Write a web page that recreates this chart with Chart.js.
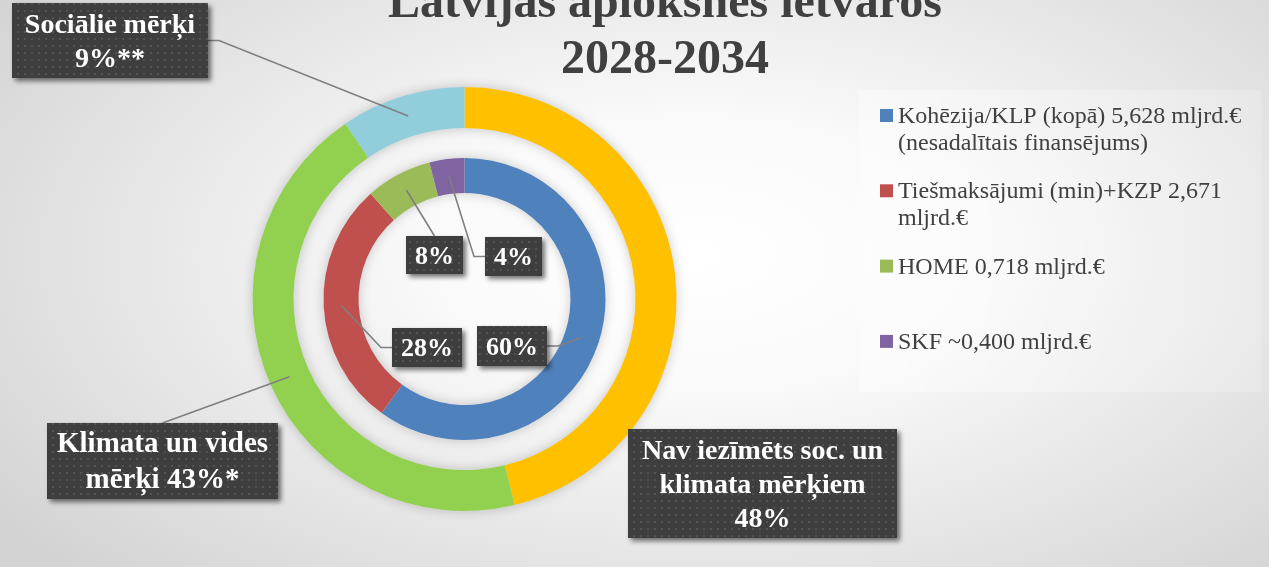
<!DOCTYPE html>
<html>
<head>
<meta charset="utf-8">
<script src="https://cdn.jsdelivr.net/npm/chart.js@4.4.1/dist/chart.umd.min.js"></script>
<style>
  html, body { margin: 0; padding: 0; }
  body {
    width: 1269px; height: 567px; overflow: hidden;
    background: radial-gradient(ellipse 68% 80% at 55% 45%, #ffffff 0%, #fafafa 30%, #e4e4e4 70%, #d3d3d3 100%);
  }
  #wrap { position: relative; width: 1269px; height: 567px; }
</style>
</head>
<body>
<div id="wrap"><canvas id="envelopeChart"></canvas></div>
<script>
const titleLines = ['Latvijas aploksnes ietvaros', '2028-2034'];

// outer ring - targets, clockwise from 12 o'clock
const targetLabels = ['Nav iezīmēts soc. un\nklimata mērķiem\n48%', 'Klimata un vides\nmērķi 43%*', 'Sociālie mērķi\n9%**'];
const targetValues = [46.2, 44.3, 9.5];

// inner ring - funding sources
const sourceLabels = [
  'Kohēzija/KLP (kopā) 5,628 mljrd.€ (nesadalītais finansējums)',
  'Tiešmaksājumi (min)+KZP 2,671 mljrd.€',
  'HOME 0,718 mljrd.€',
  'SKF ~0,400 mljrd.€'
];
const sourceValues = [60, 28.4, 7.6, 4];

const targetColors = ['#FFC000', '#92D050', '#92CDDC'];
const sourceColors = ['#4F81BD', '#C0504D', '#9BBB59', '#8064A2'];

// label boxes (placement only)
const targetBoxes = [
  { x: 628, y: 429, w: 269, h: 109, lh: 34, size: 28, side: 'none' },
  { x: 47, y: 423, w: 231, h: 76, lh: 36, size: 29, side: 'top' },
  { x: 12, y: 3, w: 196, h: 75, lh: 34, size: 28, side: 'right' }
];
const sourceBoxes = [
  { x: 477, y: 326, w: 70, h: 40, size: 26, side: 'right' },
  { x: 392, y: 328, w: 70, h: 39, size: 26, side: 'left' },
  { x: 406, y: 236, w: 57, h: 38, size: 26, side: 'top' },
  { x: 485, y: 237, w: 57, h: 39, size: 26, side: 'left' }
];

const serif = '"Liberation Serif", "Times New Roman", serif';

function dotPattern(ctx) {
  const c = document.createElement('canvas');
  c.width = 7; c.height = 7;
  const g = c.getContext('2d');
  g.fillStyle = '#3e3e3e';
  g.fillRect(0, 0, 7, 7);
  g.fillStyle = '#535353';
  g.fillRect(3, 3, 2, 2);
  return ctx.createPattern(c, 'repeat');
}

function drawLabel(ctx, box, text, anchor, pattern) {
  // leader line
  ctx.save();
  ctx.strokeStyle = '#7f7f7f';
  ctx.lineWidth = 1.6;
  const cy = box.y + box.h / 2;
  if (box.side !== 'none') {
    ctx.beginPath();
    if (box.side === 'right') {
      ctx.moveTo(box.x + box.w, cy);
      ctx.lineTo(box.x + box.w + 11, cy);
    } else if (box.side === 'left') {
      ctx.moveTo(box.x, cy);
      ctx.lineTo(box.x - 11, cy);
    } else {
      ctx.moveTo(box.x + box.w / 2, box.y);
    }
    ctx.lineTo(anchor.x, anchor.y);
    ctx.stroke();
  }
  ctx.restore();

  // box with shadow
  ctx.save();
  ctx.shadowColor = 'rgba(0,0,0,0.55)';
  ctx.shadowBlur = 5;
  ctx.shadowOffsetX = 3;
  ctx.shadowOffsetY = 3;
  ctx.fillStyle = pattern;
  ctx.fillRect(box.x, box.y, box.w, box.h);
  ctx.restore();

  ctx.save();
  ctx.fillStyle = '#ffffff';
  ctx.font = 'bold ' + box.size + 'px ' + serif;
  ctx.textAlign = 'center';
  ctx.textBaseline = 'middle';
  const lines = text.split('\n');
  const lh = box.lh || box.size;
  lines.forEach((ln, i) => {
    ctx.fillText(ln, box.x + box.w / 2, cy + 2 + (i - (lines.length - 1) / 2) * lh);
  });
  ctx.restore();
}

function wrapText(ctx, text, maxW) {
  const words = text.split(' ');
  const out = [];
  let cur = '';
  words.forEach(w => {
    const test = cur ? cur + ' ' + w : w;
    if (cur && ctx.measureText(test).width > maxW) {
      out.push(cur);
      cur = w;
    } else {
      cur = test;
    }
  });
  if (cur) out.push(cur);
  return out;
}

const decorPlugin = {
  id: 'decor',
  beforeDatasetsDraw(chart) {
    const ctx = chart.ctx;
    [0, 2].forEach(di => {
      const arc = chart.getDatasetMeta(di).data[0];
      ctx.save();
      ctx.shadowColor = 'rgba(0,0,0,0.2)';
      ctx.shadowBlur = 12;
      ctx.fillStyle = '#e4e4e4';
      ctx.beginPath();
      ctx.arc(arc.x, arc.y, arc.outerRadius, 0, Math.PI * 2);
      ctx.arc(arc.x, arc.y, arc.innerRadius, Math.PI * 2, 0, true);
      ctx.fill();
      ctx.restore();
    });
  },
  afterDraw(chart) {
    const ctx = chart.ctx;
    const pattern = dotPattern(ctx);

    // data labels
    const outer = chart.getDatasetMeta(0).data;
    const inner = chart.getDatasetMeta(2).data;
    inner.forEach((arc, i) => {
      drawLabel(ctx, sourceBoxes[i], Math.round(sourceValues[i]) + '%', arc.tooltipPosition(), pattern);
    });
    outer.forEach((arc, i) => {
      drawLabel(ctx, targetBoxes[i], targetLabels[i], arc.tooltipPosition(), pattern);
    });

    // legend panel
    ctx.save();
    const lg = ctx.createLinearGradient(859, 0, 1261, 0);
    lg.addColorStop(0, 'rgba(255,255,255,0.4)');
    lg.addColorStop(1, 'rgba(255,255,255,0.2)');
    ctx.fillStyle = lg;
    ctx.fillRect(859, 90, 402, 302);
    ctx.font = '24px ' + serif;
    ctx.textBaseline = 'alphabetic';
    ctx.textAlign = 'left';
    sourceLabels.forEach((lab, i) => {
      const base = 123 + i * 75.3;
      ctx.fillStyle = sourceColors[i];
      ctx.fillRect(880, base - 14, 13, 13);
      ctx.fillStyle = '#404040';
      wrapText(ctx, lab, 356).forEach((ln, j) => {
        ctx.fillText(ln, 898, base + j * 27);
      });
    });
    ctx.restore();

    // title
    ctx.save();
    ctx.fillStyle = '#404040';
    ctx.font = 'bold 48px ' + serif;
    ctx.textAlign = 'center';
    ctx.textBaseline = 'alphabetic';
    ctx.fillText(titleLines[0], 665, 17);
    ctx.fillText(titleLines[1], 665, 73);
    ctx.restore();
  }
};

document.addEventListener('DOMContentLoaded', function () {
  const ctx = document.getElementById('envelopeChart').getContext('2d');

  new Chart(ctx, {
    type: 'doughnut',
    data: {
      labels: sourceLabels,
      datasets: [
        { label: 'Mērķi', data: targetValues, backgroundColor: targetColors, borderWidth: 0, weight: 41 },
        { label: 'gap', data: [1], backgroundColor: 'rgba(0,0,0,0)', borderWidth: 0, weight: 30 },
        { label: 'Avoti', data: sourceValues, backgroundColor: sourceColors, borderWidth: 0, weight: 35 }
      ]
    },
    options: {
      responsive: true,
      maintainAspectRatio: false,
      animation: false,
      events: [],
      cutout: '50%',
      layout: { padding: { left: 252.5, right: 592.5, top: 87, bottom: 56 } },
      plugins: {
        legend: { display: false },
        tooltip: { enabled: false }
      }
    },
    plugins: [decorPlugin]
  });
});
</script>
</body>
</html>
